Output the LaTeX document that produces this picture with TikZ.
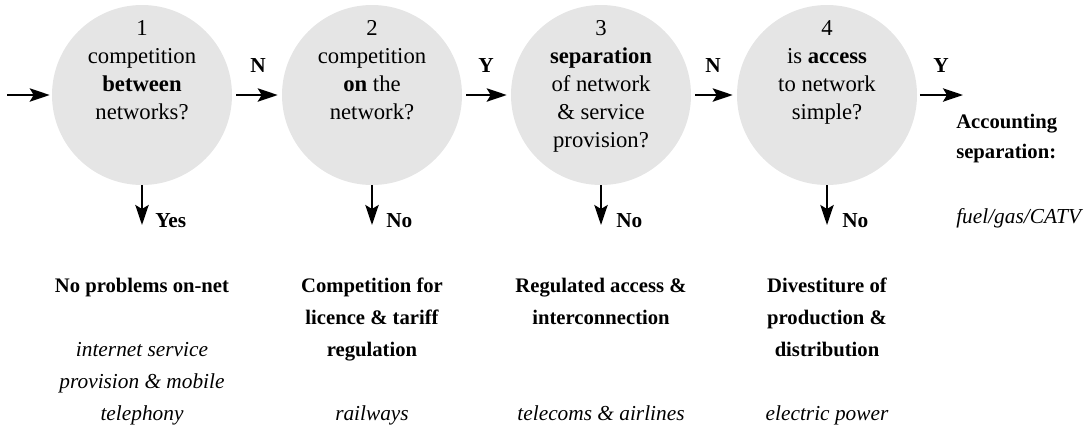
\documentclass[tikz,border=0pt]{standalone}
\usepackage{fontspec}
\setmainfont{Liberation Serif}
\usetikzlibrary{arrows.meta}
\begin{document}
\begin{tikzpicture}[x=0.75pt,y=-0.75pt,
  q/.style={circle,fill=black!10,minimum size=135pt,inner sep=0pt},
  qtext/.style={align=center,anchor=base,inner sep=0pt,font=\fontsize{17}{21}\selectfont},
  flow/.style={line width=1.7pt,-{Stealth[length=15pt,width=10pt,inset=3pt]}},
  lab/.style={font=\fontsize{16}{20}\selectfont\bfseries,inner sep=0pt,anchor=base},
  res/.style={align=center,anchor=base,inner sep=0pt,font=\fontsize{15.5}{24}\selectfont\bfseries},
  ex/.style={align=center,anchor=base,inner sep=0pt,font=\fontsize{16}{24}\selectfont\itshape},
]
\useasboundingbox (0,0) rectangle (1092,426);
% question circles
\node[q] (c1) at (142,95) {};
\node[q] (c2) at (372,95) {};
\node[q] (c3) at (601,95) {};
\node[q] (c4) at (827,95) {};
% multi-line nodes: base anchor = baseline of last line
\node[qtext] (t1) at (142,119) {1\\competition\\\textbf{between}\\networks?};
\node[qtext] (t2) at (372,119) {2\\competition\\\textbf{on} the\\network?};
\node[qtext] (t3) at (601,147) {3\\\textbf{separation}\\of network\\\& service\\provision?};
\node[qtext] (t4) at (827,119) {4\\is \textbf{access}\\to network\\simple?};
% horizontal flow
\coordinate (in) at (7,95);
\coordinate (out) at (963,95);
\draw[flow,shorten >=1.5pt] (in) -- (c1.west);
\draw[flow,shorten <=3pt,shorten >=3pt] (c1.east) -- (c2.west);
\draw[flow,shorten <=3pt,shorten >=3pt] (c2.east) -- (c3.west);
\draw[flow,shorten <=3pt,shorten >=3pt] (c3.east) -- (c4.west);
\draw[flow,shorten <=2pt] (c4.east) -- (out);
\node[lab] (n1) at (258,72) {N};
\node[lab] (y2) at (486,72) {Y};
\node[lab] (n3) at (713,72) {N};
\node[lab] (y4) at (941,72) {Y};
% downward flow
\coordinate (d1) at (142,225);
\coordinate (d2) at (372,225);
\coordinate (d3) at (601,225);
\coordinate (d4) at (827,225);
\draw[flow] (c1.south) -- (d1);
\draw[flow] (c2.south) -- (d2);
\draw[flow] (c3.south) -- (d3);
\draw[flow] (c4.south) -- (d4);
\node[lab,anchor=base west] (l1) at (155,227) {Yes};
\node[lab,anchor=base west] (l2) at (386,227) {No};
\node[lab,anchor=base west] (l3) at (616,227) {No};
\node[lab,anchor=base west] (l4) at (842,227) {No};
% outcomes
\node[res] (r1) at (142,292) {No problems on-net};
\node[res] (r2) at (372,356) {Competition for\\licence \& tariff\\regulation};
\node[res] (r3) at (601,324) {Regulated access \&\\interconnection};
\node[res] (r4) at (827,356) {Divestiture of\\production \&\\distribution};
\node[res,align=left,anchor=base west,font=\fontsize{15.5}{22.5}\selectfont\bfseries] (r5) at (956,158) {Accounting\\separation:};
% examples
\node[ex] (e1) at (142,420) {internet service\\provision \& mobile\\telephony};
\node[ex] (e2) at (372,420) {railways};
\node[ex] (e3) at (601,420) {telecoms \& airlines};
\node[ex] (e4) at (827,420) {electric power};
\node[ex,anchor=base west] (e5) at (956,223) {fuel/gas/CATV};
\end{tikzpicture}
\end{document}
